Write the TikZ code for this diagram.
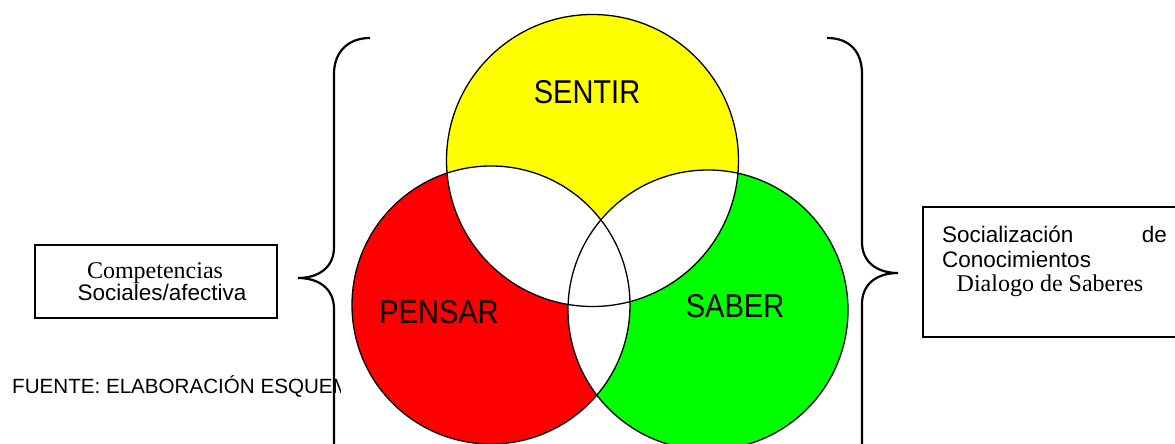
\documentclass[tikz,border=0pt]{standalone}
\usepackage{fontspec}
\setmainfont{Liberation Serif}
\newfontfamily\arialf{Liberation Sans}
\definecolor{vyellow}{RGB}{255,255,0}
\definecolor{vred}{RGB}{255,0,0}
\definecolor{vgreen}{RGB}{0,255,0}
\begin{document}
\begin{tikzpicture}[x=1pt,y=-1pt,
  venn/.style={draw=black,line width=1.3pt},
  brace/.style={draw=black,line width=2.2pt},
  txtbox/.style={draw=black,line width=1.3pt},
  vlabel/.style={anchor=base,inner sep=0pt,font=\arialf\fontsize{33}{36}\selectfont},
  serif/.style={inner sep=0pt,font=\fontsize{24}{27}\selectfont},
  sans/.style={inner sep=0pt,font=\arialf\fontsize{22.5}{25}\selectfont}]
\useasboundingbox (0,0) rectangle (1175,444);
\clip (0,0) rectangle (1175,444);
\fill[white] (0,0) rectangle (1175,444);
% circle centres
\coordinate (Y) at (592.5,160.5);
\coordinate (R) at (491,305);
\coordinate (G) at (708,310);
% fills
\fill[vyellow] (Y) circle[radius=146pt];
\fill[vred] (R) circle[radius=139pt];
\fill[vgreen] (G) circle[radius=140pt];
\begin{scope}
  \clip (Y) circle[radius=146pt];
  \fill[white] (R) circle[radius=139pt];
  \fill[white] (G) circle[radius=140pt];
\end{scope}
\begin{scope}
  \clip (R) circle[radius=139pt];
  \fill[white] (G) circle[radius=140pt];
\end{scope}
\draw[venn] (Y) circle[radius=146pt];
\draw[venn] (R) circle[radius=139pt];
\draw[venn] (G) circle[radius=140pt];
% labels
\node[vlabel] (sentir) at (587,103) {\scalebox{0.88}[1]{SENTIR}};
\node[vlabel] (pensar) at (439,323) {\scalebox{0.88}[1]{PENSAR}};
\node[vlabel] (saber) at (735,317) {\scalebox{0.88}[1]{SABER}};
% source text, clipped just past the brace line
\begin{scope}
  \clip (0,340) rectangle (340,444);
  \node[sans,font=\arialf\fontsize{20.6}{24}\selectfont,anchor=base west] (fuente) at (12,393) {FUENTE: ELABORACIÓN ESQUEMÁTICA};
\end{scope}
% braces
\draw[brace] (370,38) .. controls (348,38) and (334,52) .. (334,74)
  -- (334,247) .. controls (334,268) and (318,278) .. (298,278)
  .. controls (318,278) and (334,288) .. (334,309) -- (334,450);
\draw[brace] (827,38) .. controls (850,38) and (862,52) .. (862,74)
  -- (862,242) .. controls (862,263) and (878,273) .. (898,273)
  .. controls (878,273) and (862,283) .. (862,304) -- (862,450);
% left box
\draw[txtbox] (35,245) rectangle (277,318);
\node[serif,anchor=base] (comp) at (155,278) {Competencias};
\node[sans,anchor=base] (soc) at (162,300) {Sociales/afectiva};
% right box
\draw[txtbox] (923,207) rectangle (1185,337);
\node[sans,anchor=base west] (socz) at (942,242) {Socialización};
\node[sans,anchor=base east] (de) at (1167,242) {de};
\node[sans,anchor=base west] (cono) at (942,267) {Conocimientos};
\node[serif,anchor=base] (dial) at (1050,291) {Dialogo de Saberes};
\end{tikzpicture}
\end{document}
